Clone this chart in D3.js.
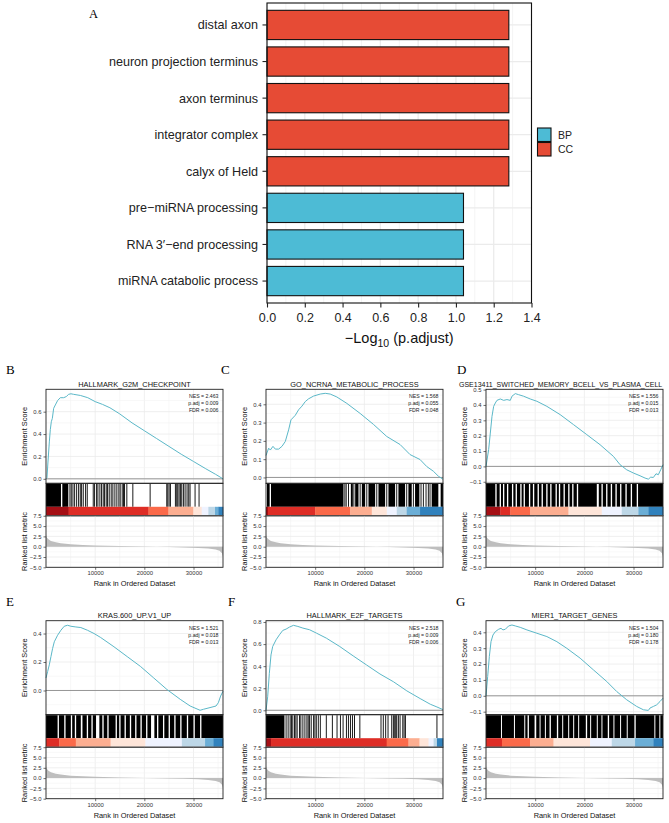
<!DOCTYPE html>
<meta charset="utf-8">
<title>GO enrichment and GSEA</title>
<style>
  body { margin: 0; background: #fff; }
  svg text { font-family: "Liberation Sans", Arial, sans-serif; }
</style>
<body>
<div id="chart"></div>
<script src="https://d3js.org/d3.v7.min.js"></script>
<script>

// ---------- panel A : GO terms ----------
var goTerms = ["distal axon", "neuron projection terminus", "axon terminus", "integrator complex",
               "calyx of Held", "pre\u2212miRNA processing", "RNA 3\u2032\u2212end processing", "miRNA catabolic process"];
var goValues = [1.28, 1.28, 1.28, 1.28, 1.28, 1.04, 1.04, 1.04];
var goOntology = ["CC", "CC", "CC", "CC", "CC", "BP", "BP", "BP"];
var goTicks = [0, 0.2, 0.4, 0.6, 0.8, 1.0, 1.2, 1.4];
var goMinor = [0.1, 0.3, 0.5, 0.7, 0.9, 1.1, 1.3];
var legendKeys = ["BP", "CC"];

// ---------- GSEA : shared ranked list ----------
var rankTicks = [10000, 20000, 30000];
var rankMinor = [5000, 15000, 25000, 35000];
var rankMax = 36000;
var metricRanks  = [0, 60, 200, 500, 1000, 2000, 3000, 5000, 7500, 10000, 15000, 20000, 25000, 28000, 31000, 33000, 34500, 35300, 35800, 36000];
var metricValues = [3.0, 2.6, 2.2, 1.8, 1.4, 1.05, 0.85, 0.6, 0.42, 0.3, 0.15, 0.03, -0.08, -0.18, -0.3, -0.45, -0.7, -1.0, -1.6, -2.5];
var metricTicks = [-5, -2.5, 0, 2.5, 5, 7.5];
var metricMinor = [-3.75, -1.25, 1.25, 3.75, 6.25];
var reds = ["#A50F15", "#DE2D26", "#FB6A4A", "#FCAE91", "#FEE5D9"];
var blues = ["#EFF3FF", "#BDD7E7", "#6BAED6", "#3182BD"];

var gseaLetters = ["B", "C", "D", "E", "F", "G"];
var gseaTitles = ["HALLMARK_G2M_CHECKPOINT", "GO_NCRNA_METABOLIC_PROCESS",
                  "GSE13411_SWITCHED_MEMORY_BCELL_VS_PLASMA_CELL", "KRAS.600_UP.V1_UP",
                  "HALLMARK_E2F_TARGETS", "MIER1_TARGET_GENES"];
var gseaNES  = ["2.463", "1.568", "1.556", "1.521", "2.518", "1.504"];
var gseaPadj = ["0.009", "0.055", "0.015", "0.018", "0.009", "0.180"];
var gseaFDR  = ["0.006", "0.048", "0.013", "0.013", "0.006", "0.178"];

// running enrichment score [rank, ES]
var esB = [[0,0],[200,0.01],[400,0.15],[680,0.33],[880,0.44],[1080,0.51],[1290,0.54],[1560,0.63],[1900,0.66],[2370,0.70],[2910,0.725],[3590,0.725],[4130,0.735],[4600,0.755],[5080,0.76],[5620,0.755],[7000,0.745],[8500,0.725],[10000,0.69],[11500,0.665],[13000,0.635],[15000,0.58],[17500,0.50],[20000,0.43],[22500,0.36],[25000,0.29],[27500,0.22],[30000,0.155],[32500,0.09],[34500,0.04],[36000,0]];
var esC = [[0,0.12],[540,0.16],[880,0.15],[1420,0.17],[1900,0.155],[2570,0.155],[3250,0.17],[3930,0.197],[4600,0.26],[5080,0.315],[5960,0.34],[6630,0.37],[7310,0.39],[7990,0.415],[8660,0.43],[9680,0.445],[11030,0.456],[12050,0.46],[13060,0.456],[14410,0.44],[16440,0.405],[19150,0.35],[21860,0.29],[24560,0.224],[27270,0.18],[29300,0.125],[31330,0.098],[32680,0.06],[34040,0.034],[35050,0.007],[36000,-0.01]];
var esD = [[0,0],[540,0.109],[880,0.217],[1220,0.326],[1560,0.391],[1900,0.413],[2230,0.43],[2910,0.439],[3590,0.43],[4260,0.435],[4940,0.43],[5280,0.457],[5960,0.474],[6630,0.467],[7650,0.457],[9000,0.439],[10350,0.424],[12380,0.391],[15090,0.337],[17800,0.272],[20500,0.207],[23210,0.141],[25920,0.065],[27270,0.011],[28620,-0.022],[29980,-0.043],[31330,-0.061],[32350,-0.076],[33020,-0.083],[33500,-0.07],[34040,-0.072],[34580,-0.048],[35050,-0.054],[35530,-0.022],[36000,0.011]];
var esE = [[0,0.088],[340,0.134],[670,0.18],[1010,0.238],[1350,0.296],[1690,0.342],[2360,0.388],[3030,0.423],[3710,0.451],[4380,0.458],[5060,0.451],[6070,0.446],[7080,0.442],[8430,0.423],[9770,0.40],[11120,0.372],[13820,0.307],[16510,0.238],[19210,0.169],[21910,0.088],[24600,0.007],[27300,-0.062],[29320,-0.109],[31340,-0.139],[32020,-0.132],[33360,-0.12],[34580,-0.109],[35050,-0.086],[35520,-0.039],[36000,-0.005]];
var esF = [[0,0],[340,0.122],[680,0.335],[1020,0.502],[1360,0.578],[2050,0.639],[2730,0.684],[3410,0.724],[4090,0.736],[4770,0.754],[5590,0.77],[6480,0.76],[7500,0.745],[8860,0.73],[10230,0.70],[12270,0.654],[15000,0.578],[17730,0.493],[20450,0.411],[23180,0.329],[25910,0.259],[28640,0.176],[31360,0.106],[33410,0.055],[34770,0.03],[36000,0.006]];
var esG = [[0,0],[340,0.121],[680,0.247],[1020,0.341],[1420,0.383],[1900,0.404],[2570,0.419],[3050,0.425],[3450,0.415],[3930,0.419],[4600,0.44],[5280,0.446],[5960,0.44],[6970,0.431],[8320,0.415],[10350,0.394],[12380,0.373],[14410,0.341],[16440,0.299],[19150,0.237],[21860,0.163],[24560,0.09],[26590,0.027],[28620,-0.025],[30650,-0.067],[32010,-0.088],[33020,-0.092],[33360,-0.077],[34040,-0.067],[34710,-0.057],[35390,-0.036],[36000,-0.015]];

var esDomains = [[-0.04, 0.80], [-0.032, 0.482], [-0.11, 0.502], [-0.17, 0.49], [-0.04, 0.812], [-0.119, 0.473]];
var esTicks = [[0, 0.2, 0.4, 0.6], [0, 0.1, 0.2, 0.3, 0.4], [-0.1, 0, 0.1, 0.2, 0.3, 0.4, 0.5],
               [0, 0.2, 0.4], [0, 0.2, 0.4, 0.6, 0.8], [-0.1, 0, 0.1, 0.2, 0.3, 0.4]];
var esMinor = [[0.1, 0.3, 0.5, 0.7], [0.05, 0.15, 0.25, 0.35, 0.45], [-0.05, 0.05, 0.15, 0.25, 0.35, 0.45],
               [-0.1, 0.1, 0.3], [0.1, 0.3, 0.5, 0.7], [-0.05, 0.05, 0.15, 0.25, 0.35]];

// gene hits: single lines and saturated blocks (rank)
var hitsB = [3590,4870,5140,5480,5820,6230,6630,6970,7240,7580,8050,8390,9610,9880,10290,10560,10960,11300,11640,11910,12250,12520,12860,13260,13600,14010,14410,14820,15090,15500,15770,15970,16440,17660,21180,24560,24770,25040,25310,26320,26590,26800,27070,27340,27610,27950,28290,28690,29030,29300,30320,31130];
var blocksB = [[0,3045],[3316,4534]];
var hitsC = [16040,16310,16780,17870,19150,20500,22530,24560,26590,28620,29980,31530,32010,32550,33020,33360];
var blocksC = [[200,744],[1015,15767],[17256,17662],[18136,18813],[19489,20166],[20842,22198],[22873,24226],[24903,26256],[26933,28286],[28963,29639],[30316,31196],[33699,35052],[35526,36000]];
var hitsD = [];
var blocksD = [[0,1895],[2165,2774],[3045,3451],[3722,4263],[4534,5278],[5549,6023],[6293,6970],[7241,7647],[7917,8729],[9000,9541],[9812,10489],[10760,11301],[11572,12248],[12519,13060],[13331,14143],[14414,14820],[15090,15767],[16038,16714],[16985,17527],[17797,18474],[18745,22534],[22940,23481],[23752,24429],[24699,25376],[25647,26324],[26594,27271],[27541,28353],[28624,29436],[29706,30654],[30925,36000]];
var hitsE = [];
var blocksE = [[0,2359],[2629,3707],[3977,5055],[5325,5864],[6133,7077],[7414,8290],[8560,9234],[9503,10177],[10851,11458],[11728,12469],[12739,14154],[14424,14895],[15165,15974],[16243,17052],[17322,18131],[18400,19209],[19479,20355],[20624,21366],[22040,22579],[22849,23792],[24062,24938],[25208,26084],[26354,27297],[27567,28645],[28915,29993],[30263,31341],[31611,36000]];
var hitsF = [4090,4500,4910,5180,5450,5800,6070,6340,6820,7090,7500,7910,8320,8590,8860,9200,9680,9950,10230,10640,11050,12270,13500,14450,15140,15680,16360,16770,17180,17590,18000,19090,23390,23860,24340,24820,25570,25910,26180,26390,26590,26930,27270,27820,28090,28360,34770];
var blocksF = [[0,3750]];
var hitsG = [];
var blocksG = [[0,3045],[3248,5684],[5887,7782],[7985,8459],[8729,9880],[10218,10895],[11098,11977],[12181,12925],[13196,14414],[14684,15497],[15699,16714],[16918,17730],[17933,18745],[18948,20301],[20572,21181],[21384,22534],[22737,23481],[23684,24767],[25038,25917],[26120,27271],[27474,28624],[28827,30181],[30452,34241],[34444,35256],[35459,36000]];

// colour strip breaks (rank) and colours
var stripB = [0,4600,20842,24903,29977,31670,33023,34376,35053,36000];
var stripColB = [reds[0], reds[1], reds[2], reds[3], reds[4], blues[0], blues[1], blues[2], blues[3]];
var stripC = [0,406,10015,17121,21519,24564,26594,28624,31330,36000];
var stripColC = [reds[0], reds[1], reds[2], reds[3], reds[4], blues[0], blues[1], blues[2], blues[3]];
var stripD = [0,2910,4940,9000,16782,23549,27609,30993,33023,36000];
var stripColD = [reds[0], reds[1], reds[2], reds[3], reds[4], blues[0], blues[1], blues[2], blues[3]];
var stripE = [0,2696,6066,13143,20220,27634,32352,34037,36000];
var stripColE = [reds[1], reds[2], reds[3], reds[4], blues[0], blues[1], blues[2], blues[3]];
var stripF = [0,1023,24545,28977,31227,33068,34090,34772,36000];
var stripColF = [reds[0], reds[1], reds[2], reds[3], reds[4], blues[0], blues[1], blues[3]];
var stripG = [0,3248,9000,13737,21181,25579,30316,34038,36000];
var stripColG = [reds[1], reds[2], reds[3], reds[4], blues[0], blues[1], blues[2], blues[3]];

var esCurves = [esB, esC, esD, esE, esF, esG];
var hitLines = [hitsB, hitsC, hitsD, hitsE, hitsF, hitsG];
var hitBlocks = [blocksB, blocksC, blocksD, blocksE, blocksF, blocksG];
var strips = [stripB, stripC, stripD, stripE, stripF, stripG];
var stripCols = [stripColB, stripColC, stripColD, stripColE, stripColF, stripColG];

// ---------- drawing ----------
var W = 669, H = 823;
var svg = d3.select("#chart").append("svg").attr("width", W).attr("height", H);
var gridMajor = "#EBEBEB", gridMinor = "#F4F4F4";

// ===== Panel A =====
var A = {left: 267, right: 531.5, top: 3, bottom: 303};
var xA = d3.scaleLinear().domain([0, 1.4]).range([A.left, A.right]);
var yA = d3.scaleBand().domain(goTerms).range([A.top, A.bottom]).paddingInner(0.2).paddingOuter(0.2);
var colA = d3.scaleOrdinal().domain(legendKeys).range(["#4DBBD5", "#E64B35"]);
var gA = svg.append("g");

gA.selectAll(".mnr").data(goMinor).enter().append("line")
  .attr("x1", function(d) { return xA(d); }).attr("x2", function(d) { return xA(d); })
  .attr("y1", A.top).attr("y2", A.bottom).attr("stroke", gridMinor).attr("stroke-width", 1);
gA.selectAll(".mjr").data(goTicks).enter().append("line")
  .attr("x1", function(d) { return xA(d); }).attr("x2", function(d) { return xA(d); })
  .attr("y1", A.top).attr("y2", A.bottom).attr("stroke", gridMajor).attr("stroke-width", 1.3);
gA.selectAll(".hg").data(goTerms).enter().append("line")
  .attr("x1", A.left).attr("x2", A.right)
  .attr("y1", function(d) { return yA(d) + yA.bandwidth() / 2; })
  .attr("y2", function(d) { return yA(d) + yA.bandwidth() / 2; })
  .attr("stroke", gridMajor).attr("stroke-width", 1.3);

gA.selectAll(".bar").data(goTerms).enter().append("rect")
  .attr("x", xA(0))
  .attr("y", function(d) { return yA(d); })
  .attr("width", function(d, i) { return xA(goValues[i]) - xA(0); })
  .attr("height", yA.bandwidth())
  .attr("fill", function(d, i) { return colA(goOntology[i]); })
  .attr("stroke", "#111").attr("stroke-width", 1.1);

gA.append("rect").attr("x", A.left).attr("y", A.top)
  .attr("width", A.right - A.left).attr("height", A.bottom - A.top)
  .attr("fill", "none").attr("stroke", "#111").attr("stroke-width", 1.1);

// y labels
gA.selectAll(".yl").data(goTerms).enter().append("text")
  .attr("x", A.left - 9).attr("y", function(d) { return yA(d) + yA.bandwidth() / 2; })
  .attr("dy", "0.35em").attr("text-anchor", "end")
  .attr("font-size", 12.6).attr("fill", "#222").text(function(d) { return d; });
gA.selectAll(".yt").data(goTerms).enter().append("line")
  .attr("x1", A.left - 4.5).attr("x2", A.left)
  .attr("y1", function(d) { return yA(d) + yA.bandwidth() / 2; })
  .attr("y2", function(d) { return yA(d) + yA.bandwidth() / 2; })
  .attr("stroke", "#222").attr("stroke-width", 1.1);

// x axis
var axA = gA.append("g").attr("transform", "translate(0," + A.bottom + ")")
  .call(d3.axisBottom(xA).tickValues(goTicks).tickSize(4.5).tickPadding(6).tickFormat(d3.format(".1f")));
axA.select(".domain").remove();
axA.selectAll("line").attr("stroke", "#222").attr("stroke-width", 1.1);
axA.selectAll("text").attr("font-size", 12.5).attr("fill", "#222")
  .attr("font-family", "Liberation Sans, Arial, sans-serif");

var tA = gA.append("text").attr("x", (A.left + A.right) / 2).attr("y", 343)
  .attr("text-anchor", "middle").attr("font-size", 14.5).attr("fill", "#111");
tA.append("tspan").text("\u2212Log");
tA.append("tspan").attr("dy", 4).attr("font-size", 10.5).text("10");
tA.append("tspan").attr("dy", -4).text(" (p.adjust)");

// legend
var lg = gA.append("g");
lg.selectAll("rect").data(legendKeys).enter().append("rect")
  .attr("x", 537.5).attr("y", function(d, i) { return 128 + i * 14.5; })
  .attr("width", 13.5).attr("height", 13.5)
  .attr("fill", function(d) { return colA(d); }).attr("stroke", "#111").attr("stroke-width", 1.1);
lg.selectAll("text").data(legendKeys).enter().append("text")
  .attr("x", 558).attr("y", function(d, i) { return 135 + i * 14.5; }).attr("dy", "0.35em")
  .attr("font-size", 10.5).attr("fill", "#222").text(function(d) { return d; });

svg.append("text").attr("x", 89).attr("y", 18).attr("font-size", 12.5)
  .style("font-family", "'Liberation Serif', 'Times New Roman', serif").text("A");

// ===== GSEA panels =====
var colLeft = [46, 266, 486];
var rowTop = [389.3, 620.7];
var pw = 177;
var letterPos = [[6, 374], [221, 374], [457, 374], [6, 606], [228, 606], [456, 606]];

var metricData = metricRanks.map(function(r, i) { return [r, metricValues[i]]; });

function gsea(k) {
  var left = colLeft[k % 3], top = rowTop[Math.floor(k / 3)];
  var right = left + pw;
  var esTop = top, esBot = top + 94;
  var hitTop = top + 94.5, hitBot = top + 117.5;
  var stripBot = top + 126.5;
  var rkTop = stripBot, rkBot = top + 178;
  var g = svg.append("g");

  var x = d3.scaleLinear().domain([0, rankMax]).range([left, right]);
  var yE = d3.scaleLinear().domain(esDomains[k]).range([esBot, esTop]);
  var yR = d3.scaleLinear().domain([-5, 7.5]).range([rkBot, rkTop]);

  function vgrid(y1, y2) {
    g.selectAll(null).data(rankMinor).enter().append("line")
      .attr("x1", function(d) { return x(d); }).attr("x2", function(d) { return x(d); })
      .attr("y1", y1).attr("y2", y2).attr("stroke", gridMinor).attr("stroke-width", 0.6);
    g.selectAll(null).data(rankTicks).enter().append("line")
      .attr("x1", function(d) { return x(d); }).attr("x2", function(d) { return x(d); })
      .attr("y1", y1).attr("y2", y2).attr("stroke", gridMajor).attr("stroke-width", 0.8);
  }
  function hgrid(scale, minor, major) {
    g.selectAll(null).data(minor).enter().append("line")
      .attr("x1", left).attr("x2", right)
      .attr("y1", function(d) { return scale(d); }).attr("y2", function(d) { return scale(d); })
      .attr("stroke", gridMinor).attr("stroke-width", 0.6);
    g.selectAll(null).data(major).enter().append("line")
      .attr("x1", left).attr("x2", right)
      .attr("y1", function(d) { return scale(d); }).attr("y2", function(d) { return scale(d); })
      .attr("stroke", gridMajor).attr("stroke-width", 0.8);
  }

  // ES panel
  vgrid(esTop, esBot);
  hgrid(yE, esMinor[k], esTicks[k]);
  g.append("line").attr("x1", left).attr("x2", right).attr("y1", yE(0)).attr("y2", yE(0))
    .attr("stroke", "#8C8C8C").attr("stroke-width", 0.9);
  g.append("path").datum(esCurves[k])
    .attr("d", d3.line().x(function(d) { return x(d[0]); }).y(function(d) { return yE(d[1]); }))
    .attr("fill", "none").attr("stroke", "#5BB8C8").attr("stroke-width", 1);
  g.append("rect").attr("x", left).attr("y", esTop).attr("width", pw).attr("height", esBot - esTop)
    .attr("fill", "none").attr("stroke", "#222").attr("stroke-width", 0.9);

  var axE = g.append("g").attr("transform", "translate(" + left + ",0)")
    .call(d3.axisLeft(yE).tickValues(esTicks[k]).tickSize(2.5).tickPadding(2).tickFormat(d3.format(".1f")));
  axE.select(".domain").remove();

  // stats
  var st = ["NES = " + gseaNES[k], "p.adj = " + gseaPadj[k], "FDR = " + gseaFDR[k]];
  g.selectAll(null).data(st).enter().append("text")
    .attr("x", right - 4.5).attr("y", function(d, i) { return esTop + 8.8 + i * 7; })
    .attr("text-anchor", "end").attr("font-size", 5.2).attr("fill", "#222").text(function(d) { return d; });

  // hits
  g.selectAll(null).data(hitBlocks[k]).enter().append("rect")
    .attr("x", function(d) { return x(d[0]); }).attr("width", function(d) { return Math.max(0.8, x(d[1]) - x(d[0])); })
    .attr("y", hitTop).attr("height", hitBot - hitTop).attr("fill", "#000");
  g.selectAll(null).data(hitLines[k]).enter().append("line")
    .attr("x1", function(d) { return x(d); }).attr("x2", function(d) { return x(d); })
    .attr("y1", hitTop).attr("y2", hitBot).attr("stroke", "#000").attr("stroke-width", 0.9);

  // colour strip
  var br = strips[k];
  g.selectAll(null).data(stripCols[k]).enter().append("rect")
    .attr("x", function(d, i) { return x(br[i]); })
    .attr("width", function(d, i) { return x(br[i + 1]) - x(br[i]) + 0.3; })
    .attr("y", hitBot).attr("height", stripBot - hitBot).attr("fill", function(d) { return d; });
  g.append("rect").attr("x", left).attr("y", esBot).attr("width", pw).attr("height", stripBot - esBot)
    .attr("fill", "none").attr("stroke", "#222").attr("stroke-width", 0.9);

  // ranked list metric
  vgrid(rkTop, rkBot);
  hgrid(yR, metricMinor, metricTicks);
  g.append("path").datum(metricData)
    .attr("d", d3.area().x(function(d) { return x(d[0]); }).y0(yR(0)).y1(function(d) { return yR(d[1]); }))
    .attr("fill", "#BEBEBE");
  g.append("rect").attr("x", left).attr("y", rkTop).attr("width", pw).attr("height", rkBot - rkTop)
    .attr("fill", "none").attr("stroke", "#222").attr("stroke-width", 0.9);
  var axR = g.append("g").attr("transform", "translate(" + left + ",0)")
    .call(d3.axisLeft(yR).tickValues(metricTicks).tickSize(2.5).tickPadding(2).tickFormat(d3.format(".1f")));
  axR.select(".domain").remove();
  var axX = g.append("g").attr("transform", "translate(0," + rkBot + ")")
    .call(d3.axisBottom(x).tickValues(rankTicks).tickSize(2.5).tickPadding(1.5).tickFormat(d3.format("d")));
  axX.select(".domain").remove();

  [axE, axR, axX].forEach(function(a) {
    a.selectAll("line").attr("stroke", "#333").attr("stroke-width", 0.7);
    a.selectAll("text").attr("font-size", 5.9).attr("fill", "#333")
      .attr("font-family", "Liberation Sans, Arial, sans-serif");
  });

  // titles (the long one starts left of its panel and uses a slightly smaller size to stay on the page)
  var tt = g.append("text").attr("y", top - 2.8).attr("fill", "#111").text(gseaTitles[k]);
  if (gseaTitles[k].length > 40) {
    tt.attr("x", left - 27).attr("font-size", 7.0);
  } else {
    tt.attr("x", left + pw / 2).attr("text-anchor", "middle").attr("font-size", 7.4);
  }
  g.append("text").attr("x", left + pw / 2).attr("y", rkBot + 19).attr("text-anchor", "middle")
    .attr("font-size", 7.4).attr("fill", "#111").text("Rank in Ordered Dataset");
  g.append("text").attr("transform", "translate(" + (left - 19) + "," + ((esTop + esBot) / 2) + ") rotate(-90)")
    .attr("text-anchor", "middle").attr("font-size", 7.4).attr("fill", "#111").text("Enrichment Score");
  g.append("text").attr("transform", "translate(" + (left - 19) + "," + ((rkTop + rkBot) / 2) + ") rotate(-90)")
    .attr("text-anchor", "middle").attr("font-size", 7.4).attr("fill", "#111").text("Ranked list metric");

  svg.append("text").attr("x", letterPos[k][0]).attr("y", letterPos[k][1]).attr("font-size", 13)
    .style("font-family", "'Liberation Serif', 'Times New Roman', serif").text(gseaLetters[k]);
}

for (var k = 0; k < 6; k++) gsea(k);

</script>
</body>
